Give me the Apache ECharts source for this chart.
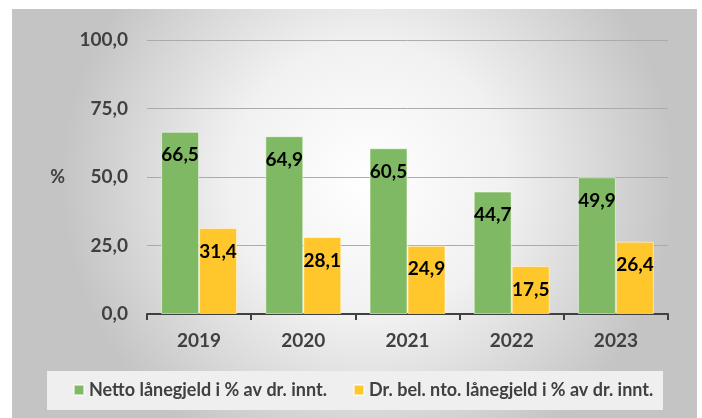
<!DOCTYPE html>
<html>
<head>
<meta charset="utf-8">
<script src="https://cdn.jsdelivr.net/npm/echarts@6/dist/echarts.min.js"></script>
<style>
  html, body { margin: 0; padding: 0; background: #ffffff; }
  #main { position: absolute; left: 12px; top: 9px; width: 685px; height: 409px; }
</style>
</head>
<body>
<div id="main"></div>
<script>
// år
var years = ['2019', '2020', '2021', '2022', '2023'];
// netto lånegjeld i % av driftsinntekter
var nettoLanegjeld = [66.5, 64.9, 60.5, 44.7, 49.9];
// driftsbelastende netto lånegjeld i % av driftsinntekter
var drBelLanegjeld = [31.4, 28.1, 24.9, 17.5, 26.4];
var seriesNames = ['Netto lånegjeld i % av dr. innt.', 'Dr. bel. nto. lånegjeld i % av dr. innt.'];
var yTicks = { min: 0, max: 100, interval: 25 };

var fontFam = 'Lato, "Open Sans", sans-serif';

function komma(v) {
    return v.toFixed(1).replace('.', ',');
}

var myChart = echarts.init(document.getElementById('main'));

var labelStyle = {
    show: true,
    position: 'insideTop',
    distance: 14,
    color: '#000000',
    fontFamily: fontFam,
    fontWeight: 'bold',
    fontSize: 19,
    formatter: function (p) { return komma(p.value); }
};

var option = {
    backgroundColor: {
        type: 'radial', x: 0.52, y: 0.42, r: 0.75,
        colorStops: [
            { offset: 0, color: '#ffffff' },
            { offset: 0.45, color: '#f1f1f1' },
            { offset: 1, color: '#c4c4c4' }
        ]
    },
    textStyle: { fontFamily: fontFam },
    graphic: [{
        type: 'rect',
        left: 35, top: 362,
        shape: { width: 616, height: 39 },
        style: { fill: '#efefef' },
        z: 0
    }],
    legend: {
        data: seriesNames,
        left: 61,
        top: 372,
        padding: 0,
        icon: 'rect',
        itemWidth: 10,
        itemHeight: 10,
        itemGap: 26,
        textStyle: { color: '#404040', fontWeight: 'bold', fontSize: 18, fontFamily: fontFam },
        z: 5
    },
    grid: { left: 135, right: 29, top: 31, bottom: 104 },
    xAxis: {
        type: 'category',
        data: years,
        axisLine: { lineStyle: { color: '#404040', width: 2 } },
        axisTick: { show: true, length: 6, lineStyle: { color: '#404040', width: 2 } },
        axisLabel: { color: '#404040', fontWeight: 'bold', fontSize: 19, margin: 17, fontFamily: fontFam }
    },
    yAxis: {
        type: 'value',
        min: yTicks.min,
        max: yTicks.max,
        interval: yTicks.interval,
        name: '%',
        nameLocation: 'middle',
        nameRotate: 0,
        nameGap: 82,
        nameTextStyle: { color: '#404040', fontWeight: 'bold', fontSize: 18, fontFamily: fontFam },
        axisLine: { show: false },
        axisTick: { show: false },
        splitLine: { lineStyle: { color: '#ababab', width: 1 } },
        axisLabel: {
            color: '#404040', fontWeight: 'bold', fontSize: 19, margin: 19, fontFamily: fontFam,
            formatter: function (v) { return komma(v); }
        }
    },
    series: [{
        name: seriesNames[0],
        type: 'bar',
        data: nettoLanegjeld,
        barWidth: 38,
        barGap: '0%',
        itemStyle: { color: '#80b963', borderColor: 'rgba(255,255,255,0.55)', borderWidth: 1 },
        label: labelStyle
    }, {
        name: seriesNames[1],
        type: 'bar',
        data: drBelLanegjeld,
        barWidth: 38,
        barGap: '0%',
        itemStyle: { color: '#ffc72c', borderColor: 'rgba(255,255,255,0.55)', borderWidth: 1 },
        label: labelStyle
    }]
};

myChart.setOption(option);
</script>
</body>
</html>
